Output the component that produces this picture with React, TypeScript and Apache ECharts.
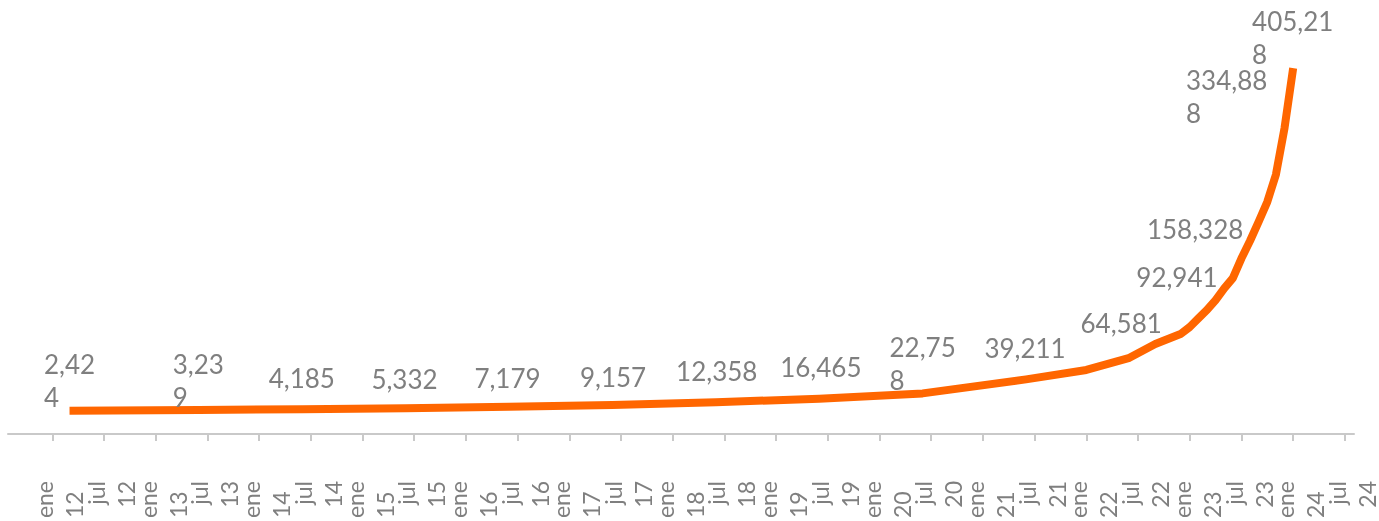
import React, { useEffect, useRef } from 'react';
import * as echarts from 'echarts';

// Axis tick labels (every 6 months)
const xTickLabels = [
  'ene 12', 'jul 12', 'ene 13', 'jul 13', 'ene 14', 'jul 14', 'ene 15', 'jul 15',
  'ene 16', 'jul 16', 'ene 17', 'jul 17', 'ene 18', 'jul 18', 'ene 19', 'jul 19',
  'ene 20', 'jul 20', 'ene 21', 'jul 21', 'ene 22', 'jul 22', 'ene 23', 'jul 23',
  'ene 24', 'jul 24',
];

// Series points (date, value)
const pointDates = [
  '2012-03', '2013-06', '2014-06', '2015-06', '2016-06', '2017-06', '2018-06',
  '2019-06', '2020-06', '2021-06', '2022-01', '2022-06', '2022-09', '2022-12',
  '2023-01', '2023-02', '2023-03', '2023-04', '2023-05', '2023-06', '2023-07',
  '2023-08', '2023-09', '2023-10', '2023-11', '2023-12', '2024-01',
];
const pointValues = [
  2424, 3239, 4185, 5332, 7179, 9157, 12358,
  16465, 22758, 39211, 50300, 64581, 80800, 92941,
  100800, 111000, 120800, 132500, 146300, 158328, 181500,
  202200, 224600, 248000, 280000, 334888, 405218,
];

// Which points carry a value label: null = none, 0 = one line, n = wrap after n characters
const labelWraps: (number | null)[] = [
  4, 4, 0, 0, 0, 0, 0,
  0, 5, 0, null, 0, null, 0,
  null, null, null, null, null, 0, null,
  null, null, null, null, 6, 6,
];
// Label placement relative to its point (px)
const labelOffsets: ([number, number] | null)[] = [
  [0, -30], [-0.5, -29.3], [-0.4, -30.7], [-1.1, -29.7], [-1.5, -28.4], [0.6, -28], [0.9, -31.2],
  [1.6, -31.9], [0, -30.1], [-1, -31.6], null, [-8.3, -35.3], null, [-4.2, -56.2],
  null, null, null, null, null, [-37.7, -49.3], null,
  null, null, null, null, [-57.9, -31], [-0.4, -30.7],
];

const ORANGE = '#FF6600';
const GRAY = '#7f7f7f';
const AXIS = '#c9c9c9';
const FONT = 'Lato';

const monthIndex = (d: string) => {
  const [y, m] = d.split('-').map(Number);
  return (y - 2012) * 12 + (m - 1);
};
const fmt = (v: number) => v.toLocaleString('en-US');
const labelText = (v: number, wrap: number) => {
  const s = fmt(v);
  if (!wrap) return `{a|${s}}`;
  return `{a|${s.slice(0, wrap)}}\n{a|${s.slice(wrap)}}`;
};

const tickMonths = xTickLabels.map((_, i) => i * 6);
const LABEL_SHIFT = 0.82;
// labels listed even-then-odd so that neighbouring entries never collide
const labelMonths = [
  ...tickMonths.filter((_, i) => i % 2 === 0),
  ...tickMonths.filter((_, i) => i % 2 === 1),
].map((m) => m + LABEL_SHIFT);

export default function App() {
  const ref = useRef<HTMLDivElement>(null);
  useEffect(() => {
    const chart = echarts.init(ref.current!, null, { renderer: 'svg' });
    const data = pointDates.map((d, i) => {
      const item: any = { value: [monthIndex(d), pointValues[i]] };
      const w = labelWraps[i];
      if (w !== null) {
        item.label = {
          show: true,
          position: 'inside',
          offset: labelOffsets[i],
          formatter: labelText(pointValues[i], w),
        };
      }
      return item;
    });
    const richAxis = (align: string) => ({
      fontFamily: FONT, fontSize: 23, lineHeight: 30, color: GRAY, align,
    });
    chart.setOption({
      animation: false,
      grid: { left: 8, right: 25, top: 30, bottom: 87, containLabel: false, outerBoundsMode: 'none' },
      xAxis: {
        type: 'value',
        min: -5.14,
        max: 151.06,
        splitLine: { show: false },
        axisLine: { show: true, onZero: false, lineStyle: { color: AXIS, width: 2 } },
        axisTick: {
          show: true, customValues: tickMonths, length: 7,
          lineStyle: { color: AXIS, width: 2 },
        },
        axisLabel: {
          show: true,
          showMinLabel: true,
          showMaxLabel: true,
          hideOverlap: false,
          customValues: labelMonths,
          rotate: 90,
          margin: 47,
          formatter: (v: number) => {
            const idx = Math.round((v - LABEL_SHIFT) / 6);
            const lab = xTickLabels[idx] || '';
            const [mon, yr] = lab.split(' ');
            const st = mon === 'ene' ? 'l' : 'r';
            return `{${st}|${mon}}\n{${st}|${yr}}`;
          },
          rich: { l: richAxis('left'), r: richAxis('right') },
        },
      },
      yAxis: { type: 'value', min: -25000, max: 450000, show: false },
      series: [
        {
          type: 'line',
          data,
          symbol: 'circle',
          symbolSize: 1,
          showSymbol: true,
          silent: true,
          itemStyle: { color: 'rgba(0,0,0,0)', borderWidth: 0 },
          lineStyle: { color: ORANGE, width: 8, cap: 'butt', join: 'round' },
          emphasis: { disabled: true },
          label: {
            show: false,
            color: GRAY,
            fontFamily: FONT,
            fontSize: 26,
            lineHeight: 33,
            textBorderWidth: 0,
            rich: {
              a: {
                fontFamily: FONT, fontSize: 26, lineHeight: 33, color: GRAY,
                align: 'left', textBorderWidth: 0,
              },
            },
          },
        },
      ],
    });
    return () => chart.dispose();
  }, []);
  return (
    <div
      ref={ref}
      style={{ position: 'fixed', left: 0, top: 0, width: 1379, height: 521 }}
    />
  );
}
